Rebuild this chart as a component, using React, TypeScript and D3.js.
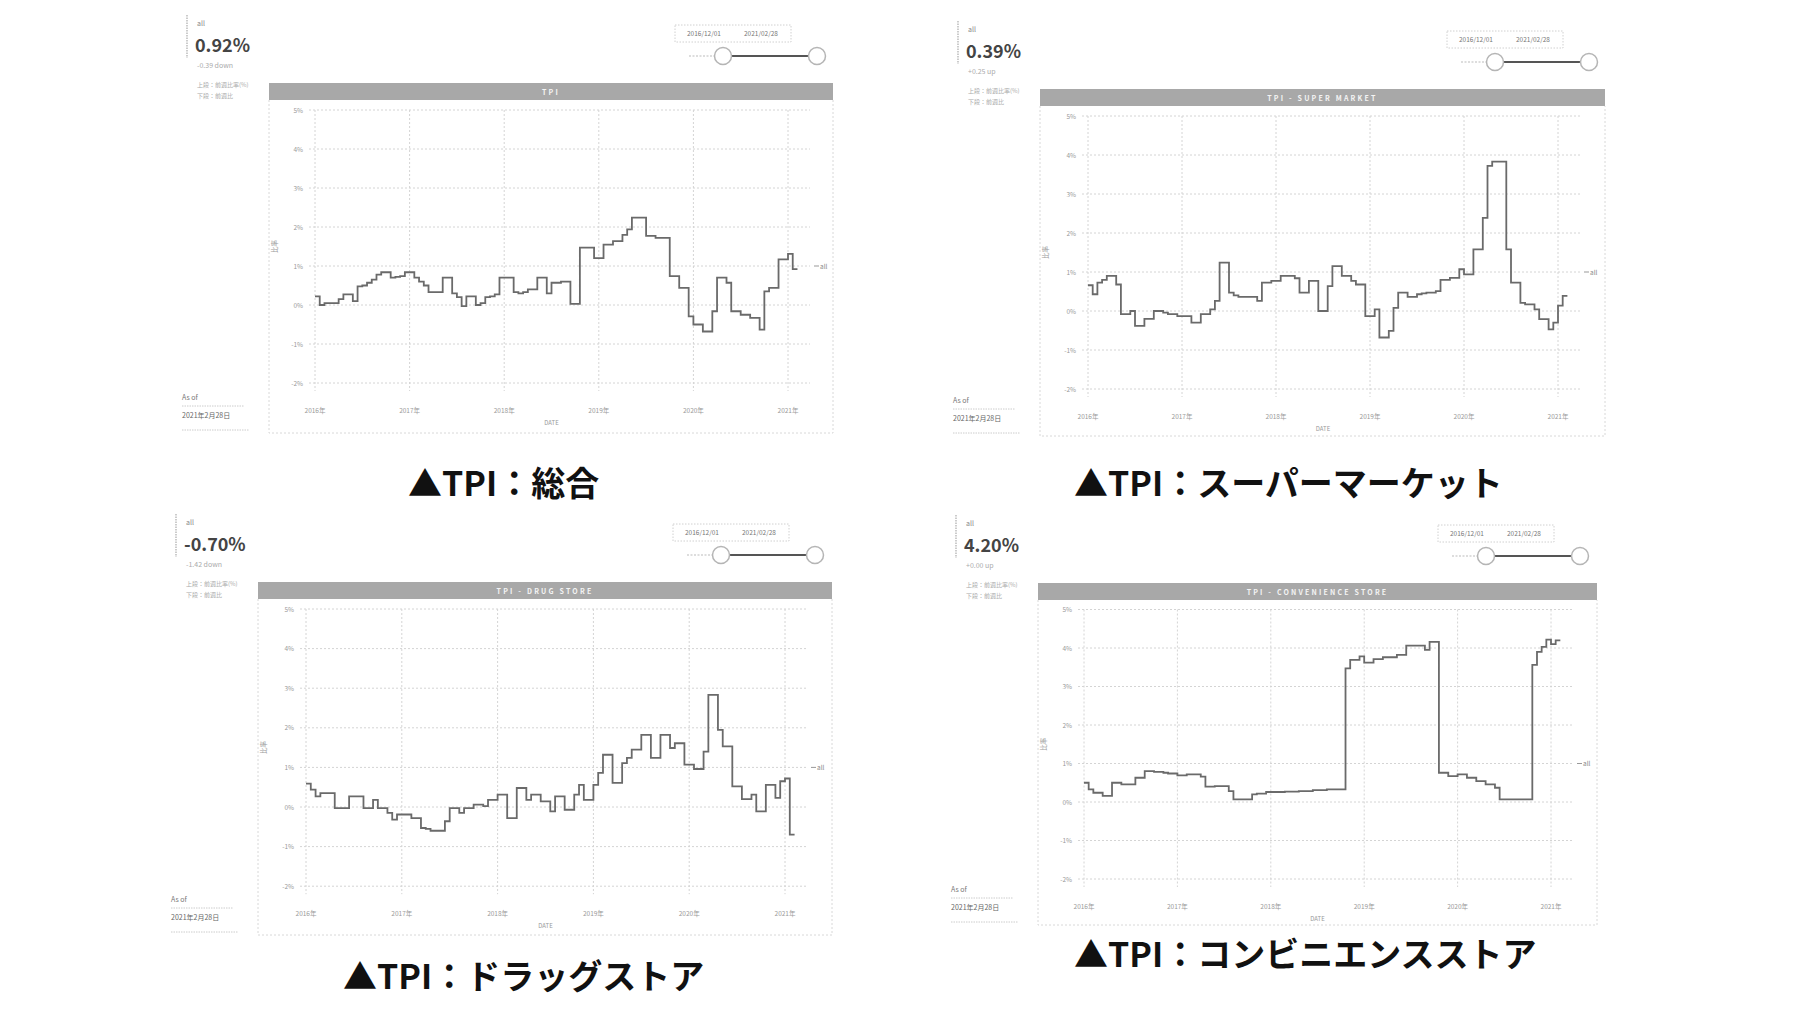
import React from 'react';
import * as d3 from 'd3';

// ---------- data ----------
const captions = ['▲TPI：総合', '▲TPI：スーパーマーケット', '▲TPI：ドラッグストア', '▲TPI：コンビニエンスストア'];
const headerTitles = ['TPI', 'TPI - SUPER MARKET', 'TPI - DRUG STORE', 'TPI - CONVENIENCE STORE'];
const kpiValues = [0.92, 0.39, -0.7, 4.2];
const kpiDeltas = [-0.39, 0.25, -1.42, 0.0];
const yearTickLabels = ['2016年', '2017年', '2018年', '2019年', '2020年', '2021年'];
const yearTickIndex = [0, 20, 40, 60, 80, 100]; // half-month period index from 2016/12/01
const yTickValues = [5, 4, 3, 2, 1, 0, -1, -2];
const rangeStart = '2016/12/01';
const rangeEnd = '2021/02/28';
const asOfLabel = '2021年2月28日';
const noteLines = ['上段：前週比率(%)', '下段：前週比'];

// half-monthly values (%), 2016/12/01 .. 2021/02/16
const tpiTotal = [
  0.22, 0.0, 0.05, 0.05, 0.05, 0.15, 0.27, 0.27, 0.1, 0.48, 0.5, 0.57,
  0.65, 0.78, 0.84, 0.84, 0.7, 0.72, 0.74, 0.84, 0.84, 0.7, 0.6, 0.5,
  0.33, 0.33, 0.33, 0.7, 0.7, 0.3, 0.2, -0.03, 0.22, 0.22, 0.0, 0.05,
  0.2, 0.22, 0.27, 0.7, 0.7, 0.7, 0.33, 0.3, 0.33, 0.4, 0.4, 0.7,
  0.7, 0.3, 0.57, 0.57, 0.6, 0.6, 0.03, 0.03, 1.47, 1.47, 1.47, 1.2,
  1.2, 1.55, 1.55, 1.64, 1.64, 1.8, 1.94, 2.24, 2.24, 2.24, 1.77, 1.77,
  1.72, 1.72, 1.72, 0.74, 0.74, 0.44, 0.44, -0.29, -0.5, -0.5, -0.68, -0.68,
  -0.16, 0.7, 0.7, 0.57, -0.16, -0.16, -0.25, -0.25, -0.33, -0.33, -0.63, 0.35,
  0.44, 0.44, 1.17, 1.17, 1.31, 0.92,
];
const tpiSuper = [
  0.66, 0.43, 0.73, 0.8, 0.9, 0.9, 0.68, -0.08, -0.08, 0.0, -0.38, -0.38,
  -0.2, -0.2, 0.0, 0.0, -0.04, -0.08, -0.08, -0.13, -0.13, -0.13, -0.3, -0.3,
  -0.08, -0.08, 0.04, 0.26, 1.24, 1.24, 0.47, 0.4, 0.36, 0.36, 0.36, 0.36,
  0.26, 0.73, 0.73, 0.77, 0.77, 0.9, 0.9, 0.9, 0.84, 0.47, 0.47, 0.77,
  0.77, 0.0, 0.0, 0.64, 1.15, 1.15, 0.9, 0.9, 0.77, 0.68, 0.68, -0.13,
  -0.13, 0.04, -0.68, -0.68, -0.51, 0.08, 0.47, 0.47, 0.36, 0.36, 0.43, 0.45,
  0.47, 0.47, 0.51, 0.8, 0.8, 0.85, 0.85, 1.07, 0.94, 0.94, 1.58, 1.58,
  2.39, 3.72, 3.83, 3.83, 3.83, 1.58, 0.73, 0.73, 0.21, 0.17, 0.17, 0.04,
  -0.21, -0.21, -0.47, -0.3, 0.14, 0.39,
];
const tpiDrug = [
  0.59, 0.44, 0.27, 0.35, 0.35, 0.35, -0.03, -0.03, -0.03, 0.27, 0.27, 0.27,
  -0.03, -0.03, 0.18, -0.03, -0.03, -0.15, -0.32, -0.19, -0.19, -0.19, -0.28, -0.28,
  -0.53, -0.55, -0.6, -0.6, -0.6, -0.36, -0.03, -0.03, -0.15, -0.03, -0.03, 0.06,
  0.06, 0.02, 0.18, 0.18, 0.31, 0.31, -0.28, -0.28, 0.48, 0.48, 0.18, 0.31,
  0.31, 0.14, 0.14, -0.11, 0.27, 0.27, -0.07, -0.07, 0.31, 0.56, 0.18, 0.18,
  0.56, 0.86, 1.32, 1.32, 0.61, 0.61, 1.11, 1.24, 1.45, 1.45, 1.82, 1.82,
  1.24, 1.24, 1.82, 1.82, 1.49, 1.61, 1.61, 1.07, 1.07, 0.96, 0.96, 1.4,
  2.83, 2.83, 1.95, 1.53, 1.53, 0.52, 0.52, 0.2, 0.2, 0.31, -0.11, -0.11,
  0.56, 0.56, 0.23, 0.65, 0.72, -0.7,
];
const tpiConv = [
  0.5, 0.33, 0.24, 0.24, 0.16, 0.16, 0.5, 0.5, 0.46, 0.46, 0.46, 0.63,
  0.63, 0.8, 0.8, 0.78, 0.78, 0.76, 0.74, 0.74, 0.69, 0.69, 0.72, 0.72,
  0.72, 0.66, 0.4, 0.4, 0.41, 0.41, 0.41, 0.28, 0.07, 0.07, 0.07, 0.07,
  0.2, 0.22, 0.22, 0.26, 0.26, 0.26, 0.26, 0.27, 0.27, 0.27, 0.28, 0.28,
  0.28, 0.31, 0.31, 0.31, 0.33, 0.33, 0.33, 0.33, 3.47, 3.69, 3.69, 3.78,
  3.62, 3.62, 3.71, 3.71, 3.76, 3.76, 3.76, 3.82, 3.82, 4.06, 4.06, 4.06,
  4.06, 3.95, 4.16, 4.16, 0.76, 0.76, 0.67, 0.67, 0.72, 0.72, 0.63, 0.63,
  0.54, 0.54, 0.46, 0.46, 0.37, 0.07, 0.07, 0.07, 0.07, 0.07, 0.07, 0.07,
  3.56, 3.9, 4.03, 4.22, 4.1, 4.2,
];
const seriesList = [tpiTotal, tpiSuper, tpiDrug, tpiConv];

// ---------- layout ----------
const layouts = [
  { hx0: 269, hx1: 833, sx: 839, hy0: 83, gx0: 315, halfPx: 4.73, y0px: 305, pctPx: 39, fb: 433, capX: 408, capY: 496 },
  { hx0: 1040, hx1: 1605, sx: 1611, hy0: 89, gx0: 1088, halfPx: 4.7, y0px: 311, pctPx: 39, fb: 436, capX: 1074, capY: 496 },
  { hx0: 258, hx1: 832, sx: 837, hy0: 582, gx0: 306, halfPx: 4.79, y0px: 807, pctPx: 39.6, fb: 935, capX: 343, capY: 989 },
  { hx0: 1038, hx1: 1597, sx: 1602, hy0: 583, gx0: 1084, halfPx: 4.67, y0px: 802, pctPx: 38.5, fb: 925, capX: 1074, capY: 967 },
];

const FONT = "'Noto Sans CJK JP', 'Noto Sans', sans-serif";
const GRID = '#d4d4d4';
const TXT = '#9a9a9a';

function Panel({ i }: { i: number }) {
  const L = layouts[i];
  const values = seriesList[i];
  const n = values.length;
  const x = d3.scaleLinear().domain([0, n]).range([L.gx0, L.gx0 + n * L.halfPx]);
  const y = d3.scaleLinear().domain([0, 1]).range([L.y0px, L.y0px - L.pctPx]);
  const pts: [number, number][] = values.map((v, k) => [k, v] as [number, number]);
  pts.push([n, values[n - 1]]);
  const line = d3
    .line<[number, number]>()
    .x((d) => x(d[0]))
    .y((d) => y(d[1]))
    .curve(d3.curveStepAfter);
  const hy1 = L.hy0 + 17;
  const gLeft = x(0) - 6;
  const gRight = x(100) + 22;
  const kx = L.hx0 - 82;
  const v = kpiValues[i];
  const dlt = kpiDeltas[i];
  const deltaText = (dlt >= 0 ? '+' : '') + dlt.toFixed(2) + (dlt >= 0 ? ' up' : ' down');
  const cR = L.sx - 22;
  const cL = L.sx - 116;
  const cy = L.hy0 - 27;
  const dy = L.hy0 - 50;
  const plotMid = (y(5) + y(-2)) / 2;
  const xCenter = (x(0) + x(100)) / 2;

  return (
    <g fontFamily={FONT}>
      {/* KPI block */}
      <line x1={kx} x2={kx} y1={L.hy0 - 68} y2={L.hy0 - 25} stroke="#aaa" strokeWidth={1.2} strokeDasharray="1.5,1" />
      <text x={kx + 10} y={L.hy0 - 57} fontSize={7} fill="#888">all</text>
      <text x={kx + 8} y={L.hy0 - 31} fontSize={18} fontWeight={700} fill="#444">
        {v.toFixed(2) + '%'}
      </text>
      <text x={kx + 10} y={L.hy0 - 15} fontSize={7} fill="#aaa">{deltaText}</text>
      <text x={kx + 10} y={L.hy0 + 4} fontSize={6} fill="#aaa">{noteLines[0]}</text>
      <text x={kx + 10} y={L.hy0 + 15} fontSize={6} fill="#aaa">{noteLines[1]}</text>

      {/* slider */}
      <rect x={L.sx - 164} y={dy - 8} width={116} height={17} fill="none" stroke="#d0d0d0" strokeDasharray="1.5,1.5" />
      <text x={L.sx - 135} y={dy + 2.5} fontSize={6.5} fill="#777" textAnchor="middle">{rangeStart}</text>
      <text x={L.sx - 78} y={dy + 2.5} fontSize={6.5} fill="#777" textAnchor="middle">{rangeEnd}</text>
      <line x1={cL - 34} x2={cL - 9} y1={cy} y2={cy} stroke="#bbb" strokeDasharray="2,1.5" />
      <line x1={cL} x2={cR} y1={cy} y2={cy} stroke="#555" strokeWidth={2} />
      <circle cx={cL} cy={cy} r={8.5} fill="#fff" stroke="#b5b5b5" strokeWidth={1.5} />
      <circle cx={cR} cy={cy} r={8.5} fill="#fff" stroke="#b5b5b5" strokeWidth={1.5} />

      {/* header bar */}
      <rect x={L.hx0} y={L.hy0} width={L.hx1 - L.hx0} height={17} fill="#a8a8a8" />
      <text
        x={(L.hx0 + L.hx1) / 2}
        y={L.hy0 + 11.5}
        fontSize={7}
        fontWeight={700}
        fill="#f4f4f4"
        textAnchor="middle"
        letterSpacing={2.2}
      >
        {headerTitles[i]}
      </text>

      {/* frame */}
      <path
        d={`M${L.hx0},${hy1} V${L.fb} H${L.hx1} V${hy1}`}
        fill="none"
        stroke="#d8d8d8"
        strokeWidth={1}
        strokeDasharray="2,2"
      />

      {/* grid */}
      {yTickValues.map((t) => (
        <g key={'y' + t}>
          <line x1={gLeft} x2={gRight} y1={y(t)} y2={y(t)} stroke={GRID} strokeDasharray="2,2" />
          <text x={gLeft - 6} y={y(t) + 2.5} fontSize={6.5} fill={TXT} textAnchor="end">
            {t + '%'}
          </text>
        </g>
      ))}
      {yearTickIndex.map((k, j) => (
        <g key={'x' + k}>
          <line x1={x(k)} x2={x(k)} y1={y(5)} y2={y(-2) + 8} stroke={GRID} strokeDasharray="2,2" />
          <text x={x(k)} y={y(-2) + 30} fontSize={6.5} fill={TXT} textAnchor="middle">
            {yearTickLabels[j]}
          </text>
        </g>
      ))}
      <text x={xCenter} y={y(-2) + 42} fontSize={6} fill={TXT} textAnchor="middle">DATE</text>
      <text
        transform={`translate(${L.hx0 + 8},${plotMid}) rotate(-90)`}
        fontSize={6.5}
        fill={TXT}
        textAnchor="middle"
      >
        比率
      </text>

      {/* series */}
      <path d={line(pts) || ''} fill="none" stroke="#6a6a6a" strokeWidth={1.8} />
      <line x1={x(100) + 26} x2={x(100) + 31} y1={y(1)} y2={y(1)} stroke="#999" />
      <text x={x(100) + 32} y={y(1) + 2.5} fontSize={6.5} fill="#888">all</text>

      {/* as of */}
      <text x={L.hx0 - 87} y={L.fb - 33} fontSize={7} fill="#777">As of</text>
      <line x1={L.hx0 - 87} x2={L.hx0 - 25} y1={L.fb - 27} y2={L.fb - 27} stroke="#ccc" strokeDasharray="1.5,1" />
      <text x={L.hx0 - 87} y={L.fb - 15} fontSize={7} fill="#666">{asOfLabel}</text>
      <line x1={L.hx0 - 87} x2={L.hx0 - 20} y1={L.fb - 3} y2={L.fb - 3} stroke="#ccc" strokeDasharray="1.5,1" />

      {/* caption */}
      <text x={L.capX} y={L.capY} fontSize={34} fontWeight={700} fill="#111" fontFamily="'Noto Sans CJK JP', sans-serif">
        {captions[i]}
      </text>
    </g>
  );
}

export default function App() {
  return (
    <svg
      width={1807}
      height={1018}
      style={{ position: 'absolute', left: 0, top: 0, background: '#fff' }}
    >
      <rect width={1807} height={1018} fill="#fff" />
      {[0, 1, 2, 3].map((i) => (
        <Panel key={i} i={i} />
      ))}
    </svg>
  );
}
